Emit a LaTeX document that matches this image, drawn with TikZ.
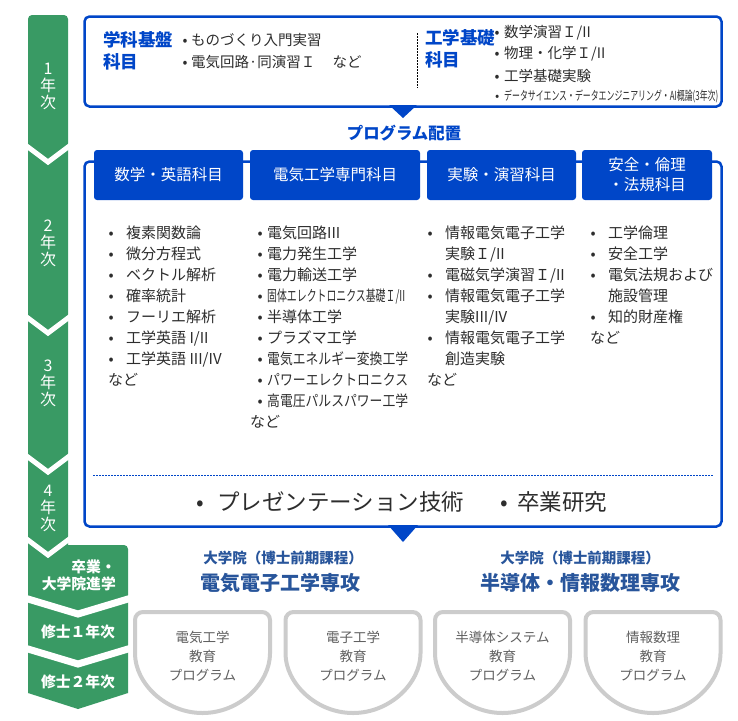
\documentclass[tikz,border=0pt]{standalone}
\usepackage{fontspec}
\setmainfont{Noto Sans CJK JP}
\usepackage{tikz}
\usetikzlibrary{calc}

\definecolor{yeargreen}{RGB}{57,154,100}
\definecolor{frameblue}{RGB}{0,70,200}
\definecolor{gradblue}{RGB}{40,85,155}
\definecolor{textgray}{RGB}{45,45,45}
\definecolor{proggray}{RGB}{95,95,95}
\definecolor{shieldgray}{RGB}{204,204,204}

% bullet centred at #1, text starting at #1+#2
\newcommand{\dotat}[2]{\hspace*{#1}\makebox[0pt]{•}\hspace*{#2}}
\newcommand{\li}{\dotat{3pt}{15pt}}
\newcommand{\lj}{\dotat{10pt}{7pt}}
\newcommand{\narrow}[1]{\resizebox{141pt}{\height}{#1}}

\tikzset{
  bluebox/.style={draw=frameblue, line width=2.5pt, rounded corners=5pt},
  tabhead/.style={fill=frameblue, text=white, rounded corners=3pt, minimum height=50pt,
    inner sep=0pt, align=center, font=\fontsize{15.5}{20}\selectfont},
  catlabel/.style={anchor=west, inner sep=0pt, align=left, text=frameblue,
    font=\bfseries\fontsize{17.5}{22}\selectfont},
  topitem/.style={anchor=west, inner sep=0pt, text=textgray, font=\fontsize{14.5}{14.5}\selectfont},
  colitems/.style={anchor=north west, inner sep=0pt, align=left, text=textgray,
    font=\fontsize{15}{21}\selectfont},
  bigitem/.style={anchor=west, inner sep=0pt, text=textgray, font=\fontsize{22.5}{22.5}\selectfont},
  yearlbl/.style={inner sep=0pt, align=center, text=white, font=\fontsize{16}{17}\selectfont},
  stagelbl/.style={inner sep=0pt, align=right, text=white, font=\bfseries\fontsize{14.8}{17}\selectfont},
  gradsub/.style={inner sep=0pt, text=gradblue, font=\bfseries\fontsize{14.5}{14.5}\selectfont},
  gradmain/.style={inner sep=0pt, text=gradblue, font=\bfseries\fontsize{20}{20}\selectfont},
  shield/.style={draw=shieldgray, line width=4pt, rounded corners=8pt},
  proglbl/.style={inner sep=0pt, align=center, text=proggray, font=\fontsize{13.5}{19}\selectfont},
  whitecut/.style={draw=white, line join=miter}
}

\begin{document}
\begin{tikzpicture}[x=1pt,y=-1pt]
  \fill[white] (0,0) rectangle (738,720);
  \useasboundingbox (0,0) rectangle (738,720);

  % year column
  \fill[yeargreen] (28,693) -- (28,100) [rounded corners=4pt] -- (28,15) -- (68,15) -- (68,100)
    [sharp corners] -- (68,545) [rounded corners=4pt] -- (128,545) -- (128,600)
    [sharp corners] -- (128,693) -- (78,709) -- cycle;
  \draw[whitecut, line width=5pt] (24,144) -- (48,162) -- (72,144);
  \draw[whitecut, line width=5pt] (24,315) -- (48,333) -- (72,315);
  \draw[whitecut, line width=5pt] (24,454) -- (48,472) -- (72,454);
  \draw[whitecut, line width=5pt] (24,537) -- (48,555) -- (72,537);
  \draw[whitecut, line width=7pt] (20,596.6) -- (78,614) -- (136,596.6);
  \draw[whitecut, line width=7pt] (20,646.6) -- (78,664) -- (136,646.6);

  \node[yearlbl] (year1) at (48,86) {1\\年\\次};
  \node[yearlbl] (year2) at (48,243) {2\\年\\次};
  \node[yearlbl] (year3) at (48,383) {3\\年\\次};
  \node[yearlbl] (year4) at (48,508) {4\\年\\次};
  \node[stagelbl, anchor=east] (gradstage) at (116,575) {卒業・\\大学院進学};
  \node[stagelbl] (master1) at (78,632) {修士１年次};
  \node[stagelbl] (master2) at (78,682) {修士２年次};

  % first year box
  \draw[bluebox] (84.5,16.5) rectangle (721.5,106.5);
  \fill[frameblue] (389,105) -- (417,105) -- (403,118) -- cycle;
  \node[catlabel] (deptbasic) at (103,51) {学科基盤\\科目};
  \node[topitem] (monozukuri) at (182,40) {\dotat{3pt}{6pt}ものづくり入門実習};
  \node[topitem] (circuit1) at (182,62) {\dotat{3pt}{6pt}電気回路·同演習Ｉ\hspace{1.2em}など};
  \draw[black, dash pattern=on 2pt off 1pt, line width=0.6pt] (417,33) -- (417,88);
  \node[catlabel] (engbasic) at (425,49) {工学基礎\\科目};
  \node[topitem] (mathex) at (494,33) {\dotat{3pt}{7pt}数学演習Ｉ/II};
  \node[topitem] (physchem) at (494,54) {\dotat{3pt}{7pt}物理・化学Ｉ/II};
  \node[topitem] (englab) at (494,76) {\dotat{3pt}{7pt}工学基礎実験};
  \node[topitem, font=\fontsize{12.5}{12.5}\selectfont] (datasci) at (494,96)
    {\dotat{3pt}{7pt}\resizebox{214pt}{\height}{データサイエンス・データエンジニアリング・AI概論(3年次)}};

  \node[text=frameblue, font=\bfseries\fontsize{16.4}{16.4}\selectfont, inner sep=0pt] (progplace)
    at (404,133) {プログラム配置};

  % second to fourth year box
  \draw[bluebox] (84.5,161.5) rectangle (721.5,526.5);
  \fill[frameblue] (388,525) -- (418,525) -- (403,542) -- cycle;
  \node[tabhead, minimum width=149pt] (tabmath) at (168.5,175) {数学・英語科目};
  \node[tabhead, minimum width=170pt] (tabelec) at (335,175) {電気工学専門科目};
  \node[tabhead, minimum width=149pt] (tablab) at (501.5,175) {実験・演習科目};
  \node[tabhead, minimum width=130pt] (tabethics) at (647,175) {安全・倫理\\・法規科目};

  \node[colitems] (mathlist) at (108,226) {\li 複素関数論\\ \li 微分方程式\\ \li ベクトル解析\\
    \li 確率統計\\ \li フーリエ解析\\ \li 工学英語 I/II\\ \li 工学英語 III/IV\\ など};
  \node[colitems] (eleclist) at (250,226) {\lj 電気回路III\\ \lj 電力発生工学\\ \lj 電力輸送工学\\
    \lj \resizebox{138pt}{\height}{固体エレクトロニクス基礎Ｉ/II}\\ \lj 半導体工学\\ \lj プラズマ工学\\
    \lj \narrow{電気エネルギー変換工学}\\ \lj \narrow{パワーエレクトロニクス}\\
    \lj \narrow{高電圧パルスパワー工学}\\ など};
  \node[colitems] (lablist) at (427,226) {\li 情報電気電子工学\\ \hspace*{18pt}実験Ｉ/II\\
    \li 電磁気学演習Ｉ/II\\ \li 情報電気電子工学\\ \hspace*{18pt}実験III/IV\\
    \li 情報電気電子工学\\ \hspace*{18pt}創造実験\\ など};
  \node[colitems] (ethicslist) at (590,226) {\li 工学倫理\\ \li 安全工学\\ \li 電気法規および\\
    \hspace*{18pt}施設管理\\ \li 知的財産権\\ など};

  \draw[frameblue, line width=0.8pt, dash pattern=on 1.5pt off 1.5pt] (93,475) -- (713,475);
  \node[bigitem] (presentation) at (195,502) {\dotat{5pt}{17pt}プレゼンテーション技術};
  \node[bigitem] (thesis) at (499,502) {\dotat{5pt}{13pt}卒業研究};

  % graduate school
  \node[gradsub] (gradsubA) at (283,558) {大学院（博士前期課程）};
  \node[gradmain] (gradmainA) at (280,583) {電気電子工学専攻};
  \node[gradsub] (gradsubB) at (580,558) {大学院（博士前期課程）};
  \node[gradmain] (gradmainB) at (580,583) {半導体・情報数理専攻};

  \foreach \cx in {202.5,353,502.5,653}
    \draw[shield] (\cx-67.5,645.5) -- (\cx-67.5,612) -- (\cx+67.5,612) -- (\cx+67.5,645.5)
      arc (0:180:67.5) -- cycle;
  \node[proglbl] (progEE) at (202.5,656) {電気工学\\教育\\プログラム};
  \node[proglbl] (progEC) at (353,656) {電子工学\\教育\\プログラム};
  \node[proglbl] (progSemi) at (502.5,656) {半導体システム\\教育\\プログラム};
  \node[proglbl] (progInfo) at (653,656) {情報数理\\教育\\プログラム};
\end{tikzpicture}
\end{document}
